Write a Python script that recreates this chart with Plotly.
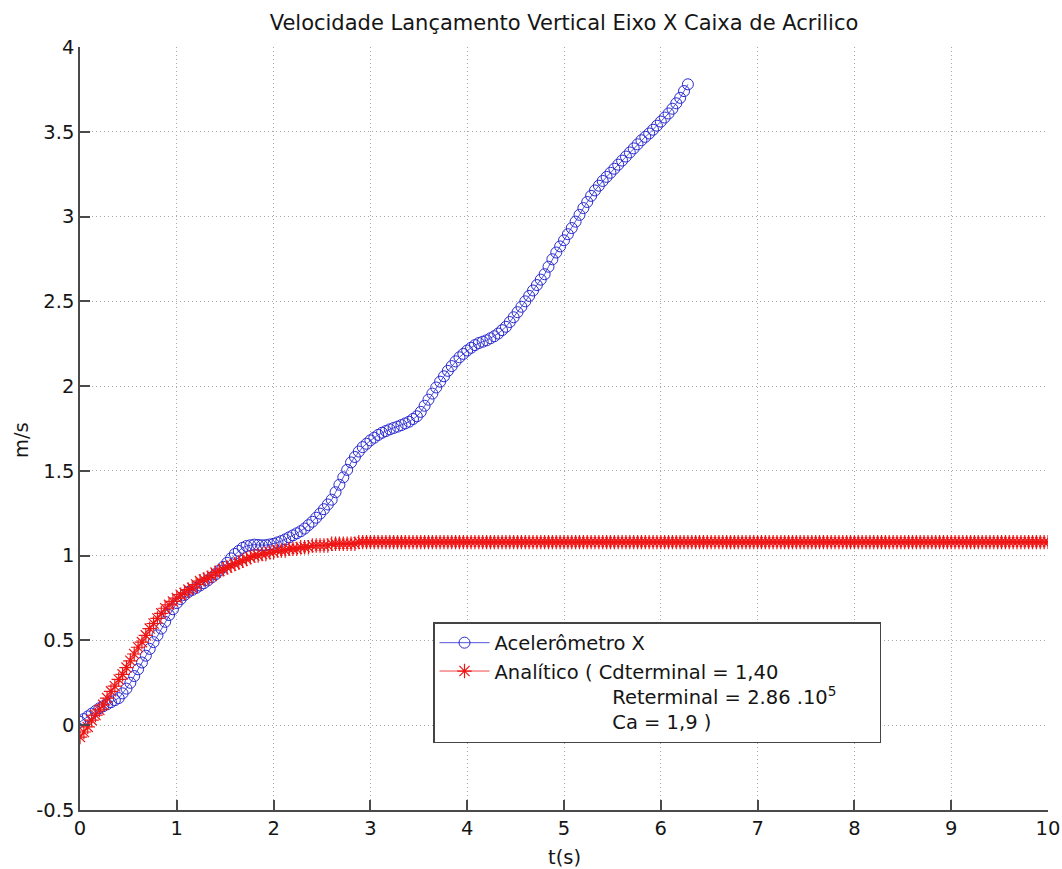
import numpy as np
import plotly.graph_objects as go

# ---------------- data ----------------
dt_blue = 0.04
v_blue = [
    0.020, 0.036, 0.052, 0.068, 0.084, 0.100, 0.112, 0.124, 0.136, 0.148,
    0.160, 0.188, 0.216, 0.250, 0.290, 0.330, 0.370, 0.410, 0.450, 0.490,
    0.530, 0.570, 0.610, 0.650, 0.684, 0.720, 0.744, 0.768, 0.786, 0.798,
    0.810, 0.824, 0.838, 0.854, 0.872, 0.890, 0.912, 0.934, 0.958, 0.984,
    1.010, 1.028, 1.046, 1.057, 1.061, 1.065, 1.063, 1.061, 1.062, 1.066,
    1.070, 1.078, 1.086, 1.096, 1.108, 1.120, 1.132, 1.144, 1.160, 1.180,
    1.200, 1.224, 1.248, 1.274, 1.302, 1.330, 1.374, 1.418, 1.462, 1.506,
    1.550, 1.582, 1.614, 1.640, 1.660, 1.680, 1.696, 1.712, 1.725, 1.735,
    1.745, 1.753, 1.761, 1.770, 1.780, 1.790, 1.806, 1.822, 1.848, 1.884,
    1.920, 1.956, 1.992, 2.026, 2.058, 2.090, 2.118, 2.146, 2.170, 2.190,
    2.210, 2.226, 2.242, 2.254, 2.262, 2.270, 2.282, 2.294, 2.310, 2.330,
    2.350, 2.378, 2.406, 2.436, 2.468, 2.500, 2.532, 2.564, 2.596, 2.628,
    2.660, 2.704, 2.748, 2.788, 2.824, 2.860, 2.896, 2.932, 2.970, 3.010,
    3.050, 3.086, 3.122, 3.154, 3.182, 3.210, 3.234, 3.258, 3.282, 3.306,
    3.330, 3.354, 3.378, 3.402, 3.426, 3.450, 3.470, 3.490, 3.512, 3.536,
    3.560, 3.584, 3.608, 3.636, 3.668, 3.700, 3.740, 3.780,
]

dt_red = 0.04
v_red = [
    -0.07, -0.04, -0.01, 0.03, 0.06, 0.09, 0.12, 0.16, 0.20, 0.23, 0.27, 0.30, 0.34,
    0.38, 0.42, 0.46, 0.49, 0.53, 0.57, 0.60, 0.63, 0.66, 0.69, 0.71, 0.73,
    0.75, 0.77, 0.78, 0.80, 0.81, 0.83, 0.85, 0.86, 0.87, 0.88, 0.90, 0.91, 0.92,
    0.93, 0.94, 0.95, 0.96, 0.97, 0.98, 0.99, 1.00, 1.00, 1.01, 1.01, 1.02,
    1.02, 1.03, 1.03, 1.03, 1.04, 1.04, 1.04, 1.05, 1.05, 1.05, 1.06, 1.06, 1.06,
    1.06, 1.06, 1.07, 1.07, 1.07, 1.07, 1.07, 1.07, 1.07, 1.08, 1.08, 1.08,
    1.08, 1.08, 1.08, 1.08, 1.08, 1.08, 1.08, 1.08, 1.08, 1.08, 1.08, 1.08, 1.08,
    1.08, 1.08, 1.08, 1.08, 1.08, 1.08, 1.08, 1.08, 1.08, 1.08, 1.08, 1.08,
    1.08, 1.08, 1.08, 1.08, 1.08, 1.08, 1.08, 1.08, 1.08, 1.08, 1.08, 1.08, 1.08,
    1.08, 1.08, 1.08, 1.08, 1.08, 1.08, 1.08, 1.08, 1.08, 1.08, 1.08, 1.08,
    1.08, 1.08, 1.08, 1.08, 1.08, 1.08, 1.08, 1.08, 1.08, 1.08, 1.08, 1.08, 1.08,
    1.08, 1.08, 1.08, 1.08, 1.08, 1.08, 1.08, 1.08, 1.08, 1.08, 1.08, 1.08,
    1.08, 1.08, 1.08, 1.08, 1.08, 1.08, 1.08, 1.08, 1.08, 1.08, 1.08, 1.08, 1.08,
    1.08, 1.08, 1.08, 1.08, 1.08, 1.08, 1.08, 1.08, 1.08, 1.08, 1.08, 1.08,
    1.08, 1.08, 1.08, 1.08, 1.08, 1.08, 1.08, 1.08, 1.08, 1.08, 1.08, 1.08, 1.08,
    1.08, 1.08, 1.08, 1.08, 1.08, 1.08, 1.08, 1.08, 1.08, 1.08, 1.08, 1.08,
    1.08, 1.08, 1.08, 1.08, 1.08, 1.08, 1.08, 1.08, 1.08, 1.08, 1.08, 1.08, 1.08,
    1.08, 1.08, 1.08, 1.08, 1.08, 1.08, 1.08, 1.08, 1.08, 1.08, 1.08, 1.08,
    1.08, 1.08, 1.08, 1.08, 1.08, 1.08, 1.08, 1.08, 1.08, 1.08, 1.08, 1.08, 1.08,
    1.08, 1.08, 1.08, 1.08, 1.08, 1.08, 1.08, 1.08, 1.08, 1.08, 1.08, 1.08,
    1.08,
]

x_ticks = [0, 1, 2, 3, 4, 5, 6, 7, 8, 9, 10]
x_tick_labels = ["0", "1", "2", "3", "4", "5", "6", "7", "8", "9", "10"]
y_ticks = [-0.5, 0, 0.5, 1, 1.5, 2, 2.5, 3, 3.5, 4]
y_tick_labels = ["-0.5", "0", "0.5", "1", "1.5", "2", "2.5", "3", "3.5", "4"]

title_text = "Velocidade Lançamento Vertical Eixo X Caixa de Acrilico"
x_label = "t(s)"
y_label = "m/s"
name_blue = "Acelerômetro X"
NB = "\u00a0"
name_red = ("Analítico ( Cdterminal = 1,40<br>"
            + NB * 19 + "Reterminal = 2.86 .10<sup>5</sup>" + NB * 6 + "<br>"
            + NB * 19 + "Ca = 1,9 )")

t_blue = np.arange(len(v_blue)) * dt_blue
t_red = np.arange(len(v_red)) * dt_red

FONT = "DejaVu Sans, Liberation Sans, Arial, sans-serif"
AXC = "#4a4a4a"
GRIDC = "#a8a8a8"
FS = 19.5
TXT = "#151515"

W, H = 1062, 869
L, R, T, B = 80, 14, 47, 59   # plot area at x 80..1048, y 47..810
PW, PH = W - L - R, H - T - B

fig = go.Figure()
fig.add_trace(go.Scatter(
    x=t_blue, y=v_blue, mode="lines+markers", name=name_blue,
    line=dict(color="#2a2ad0", width=0.8),
    marker=dict(symbol="circle-open", size=11, color="#2a2ad0",
                line=dict(width=1, color="#2a2ad0")),
))
fig.add_trace(go.Scatter(
    x=t_red, y=v_red, mode="lines+markers", name=name_red,
    line=dict(color="#ee1515", width=0.8),
    marker=dict(symbol="asterisk-open", size=12, color="#ee1515",
                line=dict(width=1.2, color="#ee1515")),
))

fig.update_layout(
    width=W, height=H,
    margin=dict(l=L, r=R, t=T, b=B, autoexpand=False),
    paper_bgcolor="white", plot_bgcolor="white",
    font=dict(family=FONT, size=FS, color=TXT),
    title=dict(text=title_text, x=564 / W, xanchor="center",
               y=1 - 23 / H, yanchor="middle", yref="container",
               font=dict(family=FONT, size=21, color=TXT)),
    showlegend=True,
    legend=dict(x=(433 - L) / PW, y=(H - B - 622) / PH, xanchor="left", yanchor="top",
                bgcolor="white", bordercolor="#444444", borderwidth=1.5,
                font=dict(family=FONT, size=FS, color=TXT),
                valign="top", tracegroupgap=0, itemwidth=50),
    annotations=[
        dict(text=x_label, xref="paper", yref="paper", x=0.5, y=(H - B - 857) / PH,
             xanchor="center", yanchor="middle", showarrow=False,
             font=dict(family=FONT, size=FS, color=TXT)),
        dict(text=y_label, xref="paper", yref="paper", x=(21 - L) / PW, y=(H - B - 440) / PH,
             xanchor="center", yanchor="middle", showarrow=False, textangle=-90,
             font=dict(family=FONT, size=FS, color=TXT)),
    ],
)
fig.update_xaxes(
    range=[0, 10], tickvals=x_ticks, ticktext=x_tick_labels, automargin=False,
    showline=True, linecolor=AXC, linewidth=1.5, mirror=False,
    ticks="inside", ticklen=10, tickcolor=AXC, tickwidth=1.5,
    showgrid=True, gridcolor=GRIDC, griddash="1px,3px", gridwidth=1,
    zeroline=False, tickfont=dict(size=FS),
)
fig.update_yaxes(
    range=[-0.5, 4], tickvals=y_ticks, ticktext=y_tick_labels, automargin=False,
    showline=True, linecolor=AXC, linewidth=1.5, mirror=False,
    ticks="inside", ticklen=10, tickcolor=AXC, tickwidth=1.5,
    showgrid=True, gridcolor=GRIDC, griddash="1px,3px", gridwidth=1,
    zeroline=False, tickfont=dict(size=FS),
)

fig.write_html(
    "out.html",
    config={"displayModeBar": False},
    post_script="document.body.style.margin='0px';document.body.style.overflow='hidden';",
)
